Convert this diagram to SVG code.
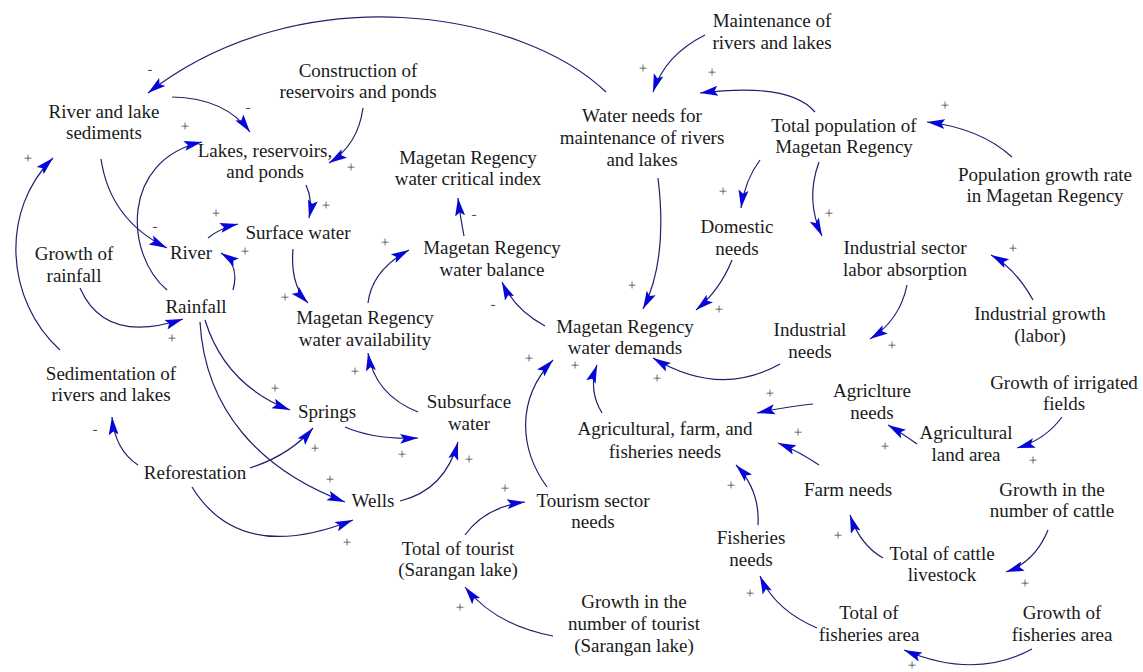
<svg xmlns="http://www.w3.org/2000/svg" width="1143" height="672" viewBox="0 0 1143 672">
  <style>
    .lbl { font-family: "Liberation Serif", "Times New Roman", serif; font-size: 19px; fill: #1a1a1a; text-anchor: middle; }
    .pol { font-family: "Liberation Serif", "Times New Roman", serif; font-size: 15px; fill: #4a4a4a; text-anchor: middle; text-rendering: geometricPrecision; }
    .lk { fill: none; stroke: #1f1f6e; stroke-width: 1.2; marker-end: url(#ah); }
  </style>
  <defs>
    <marker id="ah" markerWidth="20" markerHeight="12" refX="18" refY="6" orient="auto" markerUnits="userSpaceOnUse">
      <path d="M0,1 L18,6 L0,11 L3.5,6 Z" fill="#0606d8"/>
    </marker>
  </defs>
  <rect width="1143" height="672" fill="#ffffff"/>

  <!-- causal links -->
  <g id="connectors">
    <path class="lk" d="M606,92 C520,10 300,-25 148,93"/>
    <path class="lk" d="M172,97 Q225,98 250,132"/>
    <path class="lk" d="M363,108 Q358,145 329,163"/>
    <path class="lk" d="M306,185 Q313,200 309,218"/>
    <path class="lk" d="M167,290 C125,255 120,160 202,142"/>
    <path class="lk" d="M101,159 Q110,220 167,248"/>
    <path class="lk" d="M60,350 C5,300 0,210 53,158"/>
    <path class="lk" d="M233,290 Q240,265 221,253"/>
    <path class="lk" d="M208,238 Q220,228 238,224"/>
    <path class="lk" d="M293,249 Q290,285 308,303"/>
    <path class="lk" d="M80,288 Q105,345 183,319"/>
    <path class="lk" d="M368,303 Q372,270 409,250"/>
    <path class="lk" d="M464,236 Q460,215 458,198"/>
    <path class="lk" d="M545,326 Q515,310 502,282"/>
    <path class="lk" d="M658,178 Q668,260 643,309"/>
    <path class="lk" d="M732,260 Q720,290 696,310"/>
    <path class="lk" d="M705,35 Q665,55 653,92"/>
    <path class="lk" d="M815,112 Q790,82 700,93"/>
    <path class="lk" d="M1012,157 Q980,128 927,122"/>
    <path class="lk" d="M760,160 Q745,180 741,208"/>
    <path class="lk" d="M819,162 Q805,200 822,236"/>
    <path class="lk" d="M1033,300 Q1015,268 991,255"/>
    <path class="lk" d="M907,285 Q900,320 870,339"/>
    <path class="lk" d="M780,364 Q720,398 653,358"/>
    <path class="lk" d="M602,413 Q588,390 597,365"/>
    <path class="lk" d="M547,487 C520,450 515,400 553,360"/>
    <path class="lk" d="M813,404 Q790,406 757,413"/>
    <path class="lk" d="M819,465 Q800,452 778,443"/>
    <path class="lk" d="M758,525 Q760,490 736,465"/>
    <path class="lk" d="M917,444 Q900,432 888,425"/>
    <path class="lk" d="M1062,417 Q1045,440 1017,448"/>
    <path class="lk" d="M883,558 Q860,545 850,515"/>
    <path class="lk" d="M1048,530 Q1035,562 1006,572"/>
    <path class="lk" d="M817,628 Q775,610 760,576"/>
    <path class="lk" d="M1032,649 Q975,680 904,650"/>
    <path class="lk" d="M553,636 Q495,625 465,587"/>
    <path class="lk" d="M465,535 Q485,507 525,502"/>
    <path class="lk" d="M400,501 Q445,490 458,442"/>
    <path class="lk" d="M345,427 Q375,440 418,438"/>
    <path class="lk" d="M418,412 Q375,395 368,353"/>
    <path class="lk" d="M205,320 Q225,385 290,410"/>
    <path class="lk" d="M200,322 C205,410 260,470 345,502"/>
    <path class="lk" d="M250,468 Q290,455 313,428"/>
    <path class="lk" d="M192,487 Q240,565 353,520"/>
    <path class="lk" d="M138,465 Q115,450 112,417"/>
  </g>

  <!-- link polarities -->
  <g id="polarities">
    <text class="pol" x="150" y="74">-</text>
    <text class="pol" x="248" y="112">-</text>
    <text class="pol" x="351" y="172">+</text>
    <text class="pol" x="326" y="210">+</text>
    <text class="pol" x="185" y="131">+</text>
    <text class="pol" x="155" y="231">-</text>
    <text class="pol" x="28" y="163">+</text>
    <text class="pol" x="245" y="256">+</text>
    <text class="pol" x="216" y="218">+</text>
    <text class="pol" x="285" y="302">+</text>
    <text class="pol" x="172" y="343">+</text>
    <text class="pol" x="385" y="247">+</text>
    <text class="pol" x="474" y="219">-</text>
    <text class="pol" x="493" y="309">-</text>
    <text class="pol" x="632" y="290">+</text>
    <text class="pol" x="719" y="314">+</text>
    <text class="pol" x="643" y="73">+</text>
    <text class="pol" x="712" y="77">+</text>
    <text class="pol" x="945" y="110">+</text>
    <text class="pol" x="723" y="196">+</text>
    <text class="pol" x="829" y="218">+</text>
    <text class="pol" x="1013" y="253">+</text>
    <text class="pol" x="892" y="350">+</text>
    <text class="pol" x="657" y="383">+</text>
    <text class="pol" x="575" y="370">+</text>
    <text class="pol" x="529" y="363">+</text>
    <text class="pol" x="770" y="398">+</text>
    <text class="pol" x="798" y="437">+</text>
    <text class="pol" x="731" y="490">+</text>
    <text class="pol" x="885" y="451">+</text>
    <text class="pol" x="1033" y="465">+</text>
    <text class="pol" x="838" y="540">+</text>
    <text class="pol" x="1025" y="588">+</text>
    <text class="pol" x="750" y="598">+</text>
    <text class="pol" x="912" y="670">+</text>
    <text class="pol" x="460" y="612">+</text>
    <text class="pol" x="505" y="493">+</text>
    <text class="pol" x="469" y="464">+</text>
    <text class="pol" x="402" y="459">+</text>
    <text class="pol" x="355" y="376">+</text>
    <text class="pol" x="275" y="393">+</text>
    <text class="pol" x="330" y="484">+</text>
    <text class="pol" x="315" y="453">+</text>
    <text class="pol" x="347" y="547">+</text>
    <text class="pol" x="95" y="434">-</text>
  </g>

  <!-- variables -->
  <g id="n-sediments"><text class="lbl"><tspan x="104" y="118">River and lake</tspan><tspan x="104" y="139">sediments</tspan></text></g>
  <g id="n-maintenance"><text class="lbl"><tspan x="772" y="27">Maintenance of</tspan><tspan x="772" y="49">rivers and lakes</tspan></text></g>
  <g id="n-construction"><text class="lbl"><tspan x="358" y="77">Construction of</tspan><tspan x="358" y="98">reservoirs and ponds</tspan></text></g>
  <g id="n-water-needs-maintenance"><text class="lbl"><tspan x="642" y="122">Water needs for</tspan><tspan x="642" y="144">maintenance of rivers</tspan><tspan x="642" y="166">and lakes</tspan></text></g>
  <g id="n-total-population"><text class="lbl"><tspan x="844" y="132">Total population of</tspan><tspan x="844" y="153">Magetan Regency</tspan></text></g>
  <g id="n-population-growth"><text class="lbl"><tspan x="1045" y="181">Population growth rate</tspan><tspan x="1045" y="202">in Magetan Regency</tspan></text></g>
  <g id="n-lakes"><text class="lbl"><tspan x="265" y="157">Lakes, reservoirs,</tspan><tspan x="265" y="178">and ponds</tspan></text></g>
  <g id="n-critical-index"><text class="lbl"><tspan x="468" y="164">Magetan Regency</tspan><tspan x="468" y="185">water critical index</tspan></text></g>
  <g id="n-domestic"><text class="lbl"><tspan x="737" y="233">Domestic</tspan><tspan x="737" y="255">needs</tspan></text></g>
  <g id="n-industrial-labor"><text class="lbl"><tspan x="905" y="254">Industrial sector</tspan><tspan x="905" y="276">labor absorption</tspan></text></g>
  <g id="n-river"><text class="lbl" x="191" y="259">River</text></g>
  <g id="n-surface-water"><text class="lbl" x="298" y="239">Surface water</text></g>
  <g id="n-rainfall-growth"><text class="lbl"><tspan x="74" y="260">Growth of</tspan><tspan x="74" y="282">rainfall</tspan></text></g>
  <g id="n-rainfall"><text class="lbl" x="196" y="313">Rainfall</text></g>
  <g id="n-availability"><text class="lbl"><tspan x="365" y="324">Magetan Regency</tspan><tspan x="365" y="346">water availability</tspan></text></g>
  <g id="n-balance"><text class="lbl"><tspan x="492" y="254">Magetan Regency</tspan><tspan x="492" y="276">water balance</tspan></text></g>
  <g id="n-demands"><text class="lbl"><tspan x="625" y="333">Magetan Regency</tspan><tspan x="625" y="354">water demands</tspan></text></g>
  <g id="n-industrial-needs"><text class="lbl"><tspan x="810" y="336">Industrial</tspan><tspan x="810" y="358">needs</tspan></text></g>
  <g id="n-industrial-growth"><text class="lbl"><tspan x="1040" y="320">Industrial growth</tspan><tspan x="1040" y="342">(labor)</tspan></text></g>
  <g id="n-sedimentation"><text class="lbl"><tspan x="111" y="380">Sedimentation of</tspan><tspan x="111" y="401">rivers and lakes</tspan></text></g>
  <g id="n-springs"><text class="lbl" x="327" y="418">Springs</text></g>
  <g id="n-subsurface"><text class="lbl"><tspan x="469" y="408">Subsurface</tspan><tspan x="469" y="430">water</tspan></text></g>
  <g id="n-agri-farm-fish"><text class="lbl"><tspan x="665" y="435">Agricultural, farm, and</tspan><tspan x="665" y="458">fisheries needs</tspan></text></g>
  <g id="n-agriculture-needs"><text class="lbl"><tspan x="872" y="397">Agriclture</tspan><tspan x="872" y="419">needs</tspan></text></g>
  <g id="n-irrigated-growth"><text class="lbl"><tspan x="1064" y="389">Growth of irrigated</tspan><tspan x="1064" y="410">fields</tspan></text></g>
  <g id="n-land-area"><text class="lbl"><tspan x="966" y="439">Agricultural</tspan><tspan x="966" y="461">land area</tspan></text></g>
  <g id="n-reforestation"><text class="lbl" x="195" y="479">Reforestation</text></g>
  <g id="n-wells"><text class="lbl" x="373" y="507">Wells</text></g>
  <g id="n-tourism-needs"><text class="lbl"><tspan x="593" y="507">Tourism sector</tspan><tspan x="593" y="528">needs</tspan></text></g>
  <g id="n-tourists"><text class="lbl"><tspan x="458" y="555">Total of tourist</tspan><tspan x="458" y="576">(Sarangan lake)</tspan></text></g>
  <g id="n-tourist-growth"><text class="lbl"><tspan x="634" y="608">Growth in the</tspan><tspan x="634" y="630">number of tourist</tspan><tspan x="634" y="652">(Sarangan lake)</tspan></text></g>
  <g id="n-farm-needs"><text class="lbl" x="848" y="496">Farm needs</text></g>
  <g id="n-cattle-growth"><text class="lbl"><tspan x="1052" y="496">Growth in the</tspan><tspan x="1052" y="517">number of cattle</tspan></text></g>
  <g id="n-fisheries-needs"><text class="lbl"><tspan x="751" y="544">Fisheries</tspan><tspan x="751" y="566">needs</tspan></text></g>
  <g id="n-cattle"><text class="lbl"><tspan x="942" y="560">Total of cattle</tspan><tspan x="942" y="581">livestock</tspan></text></g>
  <g id="n-fisheries-area"><text class="lbl"><tspan x="869" y="619">Total of</tspan><tspan x="869" y="641">fisheries area</tspan></text></g>
  <g id="n-fisheries-growth"><text class="lbl"><tspan x="1062" y="619">Growth of</tspan><tspan x="1062" y="641">fisheries area</tspan></text></g>
</svg>
